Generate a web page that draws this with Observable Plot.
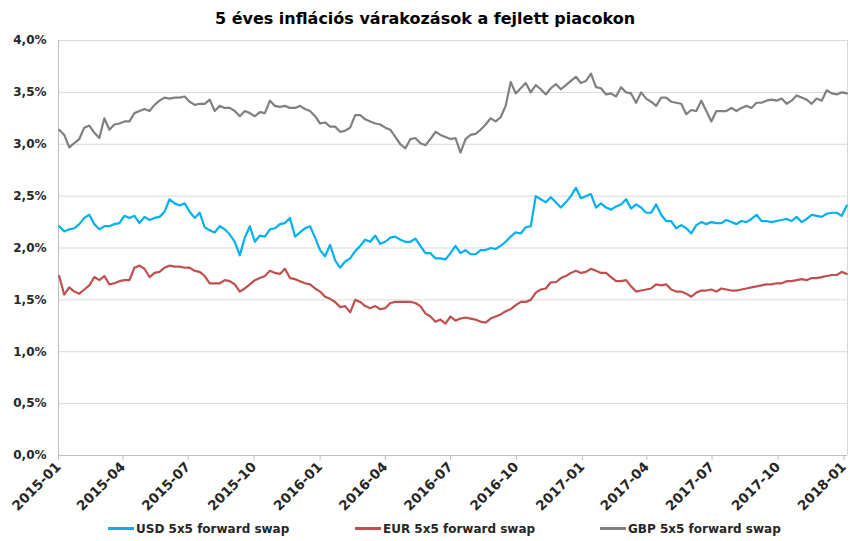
<!DOCTYPE html>
<html><head><meta charset="utf-8">
<script src="https://cdn.jsdelivr.net/npm/d3@7"></script>
<script src="https://cdn.jsdelivr.net/npm/@observablehq/plot@0.6"></script>
<style>
body{margin:0;background:#fff;font-family:"DejaVu Sans",sans-serif;}
#wrap{position:relative;width:850px;}
#title{height:34px;line-height:38px;text-align:center;font-weight:bold;font-size:16px;color:#000;}
#legend{position:relative;height:27px;font-weight:bold;font-size:12px;color:#262626;}
.item{position:absolute;top:0;line-height:30px;white-space:nowrap;}
.sw{display:inline-block;width:26px;height:3px;vertical-align:middle;margin-right:2px;position:relative;top:-1px;}
</style></head><body>
<div id="wrap">
<div id="title">5 éves inflációs várakozások a fejlett piacokon</div>
<div id="chart"></div>
<div id="legend"></div>
</div>
<script>
const seriesNames = ["USD 5x5 forward swap", "EUR 5x5 forward swap", "GBP 5x5 forward swap"];
const seriesColors = ["#00B0F0", "#C0504D", "#808080"];
const startDate = "2015-01-02";   // first weekly observation
const stepDays = 7;

const usd = [
2.21,2.16,2.18,2.19,2.23,2.29,2.32,2.23,2.18,2.21,2.21,2.23,2.24,2.31,2.29,2.31,2.24,2.30,2.27,2.29,
2.30,2.35,2.47,2.43,2.41,2.43,2.35,2.29,2.34,2.20,2.17,2.15,2.21,2.18,2.13,2.06,1.93,2.10,2.21,2.06,
2.12,2.11,2.18,2.19,2.23,2.24,2.29,2.11,2.15,2.19,2.21,2.10,1.98,1.92,2.03,1.88,1.81,1.87,1.90,1.97,
2.02,2.08,2.06,2.12,2.04,2.06,2.10,2.11,2.08,2.06,2.06,2.09,2.02,1.95,1.95,1.90,1.90,1.89,1.95,
2.02,1.95,1.98,1.94,1.94,1.98,1.98,2.00,1.99,2.02,2.06,2.11,2.15,2.14,2.20,2.21,2.50,2.47,2.44,2.49,
2.44,2.39,2.44,2.50,2.58,2.48,2.50,2.52,2.39,2.43,2.39,2.37,2.40,2.42,2.47,2.38,2.42,2.39,2.34,
2.34,2.42,2.32,2.26,2.26,2.19,2.22,2.19,2.14,2.22,2.25,2.23,2.25,2.24,2.24,2.27,2.25,2.23,2.26,2.25,
2.28,2.32,2.26,2.26,2.25,2.26,2.27,2.28,2.26,2.30,2.25,2.28,2.32,2.31,2.30,2.33,2.34,2.34,2.31,2.41
];
const eur = [
1.73,1.55,1.62,1.58,1.56,1.60,1.64,1.72,1.69,1.73,1.65,1.66,1.68,1.69,1.69,1.81,1.83,1.80,1.72,1.76,
1.77,1.81,1.83,1.82,1.82,1.81,1.81,1.78,1.77,1.73,1.66,1.66,1.66,1.69,1.68,1.65,1.58,1.61,1.65,1.69,
1.71,1.73,1.78,1.76,1.75,1.80,1.71,1.70,1.68,1.66,1.65,1.61,1.58,1.53,1.51,1.48,1.43,1.44,1.38,1.50,
1.48,1.44,1.42,1.44,1.41,1.42,1.47,1.48,1.48,1.48,1.48,1.47,1.44,1.37,1.34,1.29,1.31,1.27,1.34,
1.30,1.32,1.33,1.32,1.31,1.29,1.28,1.32,1.34,1.36,1.39,1.41,1.45,1.48,1.48,1.50,1.57,1.60,1.61,1.67,
1.67,1.71,1.73,1.76,1.78,1.76,1.77,1.80,1.78,1.76,1.76,1.72,1.68,1.68,1.69,1.63,1.58,1.59,1.60,
1.61,1.65,1.64,1.65,1.60,1.58,1.58,1.56,1.53,1.57,1.59,1.59,1.60,1.58,1.61,1.60,1.59,1.59,1.60,1.61,
1.62,1.63,1.64,1.65,1.65,1.66,1.66,1.68,1.68,1.69,1.70,1.69,1.71,1.71,1.72,1.73,1.74,1.74,1.77,1.75
];
const gbp = [
3.14,3.09,2.97,3.01,3.05,3.16,3.18,3.11,3.06,3.25,3.14,3.19,3.20,3.22,3.22,3.30,3.32,3.34,3.32,3.38,
3.42,3.45,3.44,3.45,3.45,3.46,3.41,3.38,3.39,3.39,3.43,3.32,3.37,3.35,3.35,3.32,3.27,3.32,3.30,3.27,
3.31,3.30,3.42,3.37,3.36,3.37,3.35,3.35,3.37,3.34,3.32,3.27,3.20,3.21,3.17,3.17,3.12,3.13,3.16,3.28,
3.28,3.24,3.22,3.20,3.19,3.16,3.14,3.07,3.00,2.96,3.05,3.06,3.01,2.99,3.05,3.12,3.09,3.07,3.05,
3.06,2.92,3.05,3.09,3.10,3.14,3.19,3.25,3.22,3.26,3.37,3.60,3.49,3.54,3.59,3.50,3.57,3.53,3.48,3.54,
3.58,3.53,3.57,3.61,3.65,3.59,3.61,3.68,3.55,3.54,3.48,3.49,3.46,3.55,3.50,3.49,3.40,3.50,3.44,
3.41,3.37,3.45,3.45,3.41,3.40,3.39,3.29,3.33,3.32,3.42,3.32,3.22,3.32,3.32,3.32,3.35,3.32,3.35,3.37,
3.35,3.40,3.40,3.42,3.43,3.42,3.44,3.39,3.42,3.47,3.45,3.43,3.39,3.44,3.42,3.52,3.49,3.48,3.50,3.49
];
const yTickValues = [0, 0.5, 1, 1.5, 2, 2.5, 3, 3.5, 4];
const xTickLabels = ["2015-01","2015-04","2015-07","2015-10","2016-01","2016-04","2016-07","2016-10","2017-01","2017-04","2017-07","2017-10","2018-01"];

const t0 = new Date(startDate + "T00:00:00Z");
const dateAt = i => new Date(t0.getTime() + i * stepDays * 864e5);
const allSeries = [usd, eur, gbp];
const rows = allSeries.map((vals, s) => vals.map((v, i) => ({date: dateAt(i), value: v, series: seriesNames[s]})));
const xTicks = xTickLabels.map(s => new Date(s + "-01T00:00:00Z"));
const xStart = new Date("2015-01-01T00:00:00Z");
const xEnd = new Date("2018-01-06T00:00:00Z");
const fmtPct = d => d.toFixed(1).replace(".", ",") + "%";

const chart = Plot.plot({
  width: 850, height: 480,
  marginTop: 6, marginLeft: 58, marginRight: 3, marginBottom: 59,
  style: {fontFamily: "DejaVu Sans, sans-serif", fontSize: "12px", fontWeight: "bold", color: "#262626", background: "#fff"},
  x: {type: "utc", domain: [xStart, xEnd], label: null},
  y: {domain: [0, 4], label: null},
  marks: [
    Plot.gridY(yTickValues, {stroke: "#D9D9D9", strokeOpacity: 1, strokeWidth: 1}),
    Plot.ruleX([xEnd], {stroke: "#D9D9D9", strokeWidth: 1}),
    Plot.ruleY([0], {stroke: "#BFBFBF", strokeWidth: 1}),
    Plot.ruleX([xStart], {stroke: "#BFBFBF", strokeWidth: 1}),
    ...rows.map((r, s) => Plot.lineY(r, {x: "date", y: "value", stroke: seriesColors[s], strokeWidth: 2.2, strokeLinejoin: "round"})),
    Plot.axisY(yTickValues, {tickSize: 0, tickPadding: 12, tickFormat: fmtPct, fill: "#262626", label: null}),
    Plot.axisX(xTicks, {tickSize: 5, stroke: "#BFBFBF", fill: "#262626", tickRotate: -45, tickFormat: d3.utcFormat("%Y-%m"), tickPadding: 4, fontSize: 13.5, label: null})
  ]
});
document.getElementById("chart").appendChild(chart);

const lefts = [108, 355, 600];
const legend = document.getElementById("legend");
seriesNames.forEach((n, i) => {
  const it = document.createElement("div");
  it.className = "item";
  it.style.left = lefts[i] + "px";
  it.innerHTML = `<span class="sw" style="background:${seriesColors[i]}"></span>${n}`;
  legend.appendChild(it);
});
</script>
</body></html>
